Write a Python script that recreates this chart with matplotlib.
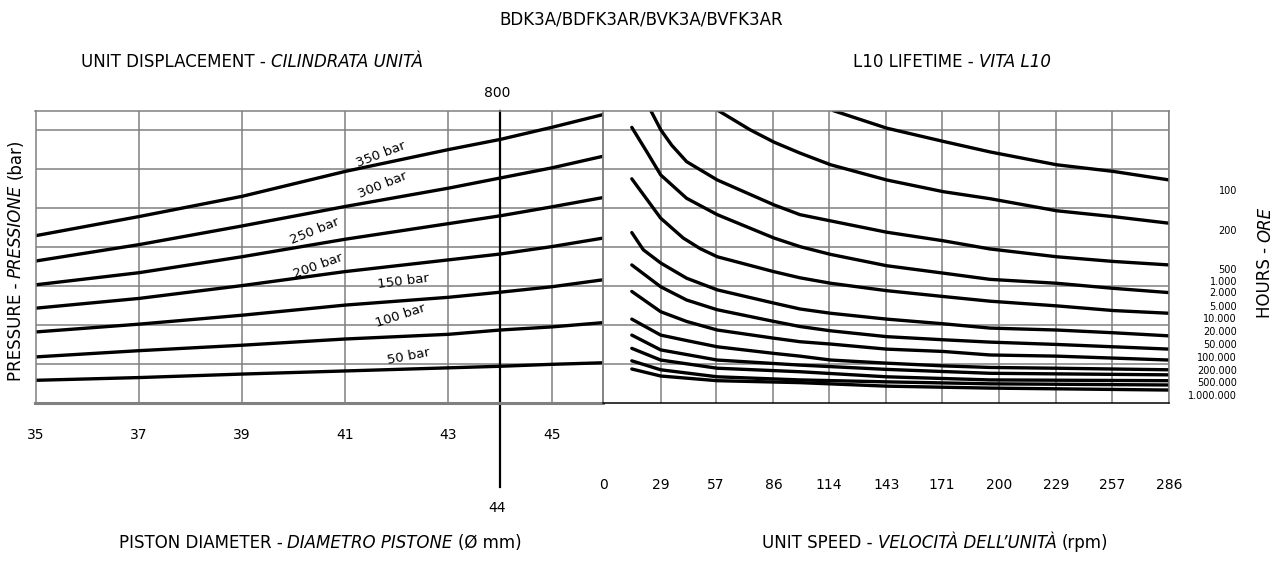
import matplotlib
matplotlib.use('Agg')
import matplotlib.pyplot as plt

# ---- left panel: piston diameter (mm) -> pressure curves (chart units) ----
diameter = [35, 37, 39, 41, 43, 44, 45, 46]
p50 = [0.59, 0.66, 0.75, 0.83, 0.91, 0.95, 1.00, 1.04]
p100 = [1.19, 1.35, 1.49, 1.65, 1.77, 1.88, 1.96, 2.07]
p150 = [1.83, 2.03, 2.26, 2.52, 2.72, 2.85, 2.99, 3.17]
p200 = [2.44, 2.69, 3.02, 3.38, 3.68, 3.83, 4.02, 4.24]
p250 = [3.04, 3.35, 3.76, 4.21, 4.61, 4.81, 5.04, 5.28]
p300 = [3.65, 4.07, 4.55, 5.05, 5.52, 5.78, 6.04, 6.34]
p350 = [4.30, 4.79, 5.31, 5.95, 6.51, 6.77, 7.08, 7.41]
pressures = [p50, p100, p150, p200, p250, p300, p350]
bar_names = ['50 bar', '100 bar', '150 bar', '200 bar', '250 bar', '300 bar', '350 bar']
diam_ticks = [35, 37, 39, 41, 43, 45]
sel_diam = 44

# ---- right panel: unit speed (rpm) -> L10 lifetime curves ----
rpm_100 = [116.2, 143.2, 171.8, 195.4, 229.1, 257.7, 286]
y_100 = [7.51, 7.06, 6.72, 6.45, 6.12, 5.95, 5.73]
rpm_200 = [58.1, 74.1, 86.3, 99.4, 114.9, 143.2, 171.8, 195.4, 229.1, 257.7, 286]
y_200 = [7.51, 7.02, 6.70, 6.42, 6.12, 5.73, 5.43, 5.25, 4.94, 4.79, 4.62]
rpm_500 = [24.0, 29.0, 34.6, 42.1, 57.6, 86.3, 99.4, 114.9, 143.2, 171.8, 195.4, 229.1, 257.7, 286]
y_500 = [7.51, 7.02, 6.62, 6.20, 5.73, 5.09, 4.84, 4.68, 4.39, 4.17, 3.96, 3.76, 3.64, 3.55]
rpm_1k = [14.4, 21.9, 29.0, 42.1, 57.6, 86.3, 99.4, 114.9, 143.2, 171.8, 195.4, 229.1, 257.7, 286]
y_1k = [7.08, 6.46, 5.86, 5.26, 4.84, 4.24, 4.02, 3.82, 3.53, 3.34, 3.18, 3.08, 2.95, 2.84]
rpm_2k = [14.4, 29.0, 40.4, 48.9, 57.6, 86.0, 99.4, 114.9, 143.2, 171.8, 195.4, 229.1, 257.7, 286]
y_2k = [5.76, 4.75, 4.24, 3.97, 3.76, 3.38, 3.22, 3.08, 2.89, 2.74, 2.62, 2.50, 2.38, 2.31]
rpm_5k = [14.4, 20.2, 29.0, 42.1, 57.6, 86.3, 99.4, 114.9, 143.2, 171.8, 195.4, 229.1, 257.7, 286]
y_5k = [4.38, 3.94, 3.60, 3.21, 2.91, 2.57, 2.42, 2.31, 2.16, 2.04, 1.93, 1.88, 1.81, 1.73]
rpm_10k = [14.4, 29.0, 42.1, 57.6, 86.3, 99.4, 114.9, 143.2, 171.8, 195.4, 229.1, 257.7, 286]
y_10k = [3.55, 2.99, 2.65, 2.40, 2.10, 1.97, 1.86, 1.71, 1.63, 1.57, 1.51, 1.45, 1.39]
rpm_20k = [14.4, 29.0, 42.1, 57.6, 86.3, 99.4, 114.9, 143.2, 171.8, 195.4, 229.1, 257.7, 286]
y_20k = [2.87, 2.35, 2.10, 1.88, 1.67, 1.58, 1.52, 1.39, 1.33, 1.24, 1.21, 1.16, 1.11]
rpm_50k = [14.4, 29.0, 42.1, 57.6, 86.3, 99.4, 114.9, 143.2, 171.8, 195.4, 229.1, 257.7, 286]
y_50k = [2.16, 1.75, 1.61, 1.45, 1.28, 1.21, 1.11, 1.03, 0.96, 0.92, 0.90, 0.88, 0.86]
rpm_100k = [14.4, 29.0, 57.6, 99.4, 143.2, 195.4, 286]
y_100k = [1.75, 1.37, 1.11, 0.98, 0.87, 0.77, 0.73]
rpm_200k = [14.4, 29.0, 57.6, 99.4, 143.2, 195.4, 286]
y_200k = [1.41, 1.11, 0.90, 0.81, 0.68, 0.60, 0.58]
rpm_500k = [14.4, 29.0, 57.6, 99.4, 143.2, 195.4, 286]
y_500k = [1.09, 0.86, 0.68, 0.60, 0.55, 0.50, 0.47]
rpm_1m = [14.4, 29.0, 57.6, 99.4, 143.2, 195.4, 286]
y_1m = [0.88, 0.70, 0.58, 0.53, 0.44, 0.39, 0.34]
life_curves = [(rpm_100, y_100), (rpm_200, y_200), (rpm_500, y_500), (rpm_1k, y_1k),
               (rpm_2k, y_2k), (rpm_5k, y_5k), (rpm_10k, y_10k), (rpm_20k, y_20k),
               (rpm_50k, y_50k), (rpm_100k, y_100k), (rpm_200k, y_200k),
               (rpm_500k, y_500k), (rpm_1m, y_1m)]
hour_labels = ['100', '200', '500', '1.000', '2.000', '5.000', '10.000', '20.000',
               '50.000', '100.000', '200.000', '500.000', '1.000.000']
speed_ticks = [0, 29, 57, 86, 114, 143, 171, 200, 229, 257, 286]

W, H = 1282, 561
fig = plt.figure(figsize=(W / 100, H / 100), dpi=100)
GRID = '#808080'

top, bot = 111, 403.3
axL = fig.add_axes([35.5 / W, (H - bot) / H, (603.3 - 35.5) / W, (bot - top) / H])
axR = fig.add_axes([603.3 / W, (H - bot) / H, 566 / W, (bot - top) / H])

for ax in (axL, axR):
    ax.set_ylim(0, 7.5)
    ax.set_yticks(range(1, 8))
    ax.set_yticklabels([])
    ax.grid(True, color=GRID, lw=1.1)
    ax.set_axisbelow(True)
    ax.tick_params(length=0, labelsize=10)
    for s in ax.spines.values():
        s.set_color(GRID)
        s.set_linewidth(1.1)

# left panel
axL.set_xlim(35, 46)
axL.set_xticks(diam_ticks)
axL.set_xticklabels([str(d) for d in diam_ticks])
axL.tick_params(axis='x', pad=18)
axL.spines['bottom'].set_linewidth(2.2)
for p in pressures:
    axL.plot(diameter, p, color='black', lw=2.4, solid_capstyle='round')
axL.plot([sel_diam, sel_diam], [7.5, -2.15], color='black', lw=1.6, clip_on=False)

lab_pos = [(42.22, 1.19, 11), (42.08, 2.26, 18), (42.12, 3.12, 7), (40.47, 3.53, 20),
           (40.40, 4.41, 22), (41.73, 5.60, 22), (41.69, 6.38, 21)]
for name, (x, y, rot) in zip(bar_names, lab_pos):
    axL.text(x, y, name, fontsize=9.5, rotation=rot, ha='center', va='center',
             rotation_mode='anchor')

# right panel
axR.set_xlim(0, 286)
axR.set_xticks(speed_ticks)
axR.set_xticklabels([str(s) for s in speed_ticks])
axR.tick_params(axis='x', pad=54)
axR.spines['bottom'].set_color('black')
for xs, ys in life_curves:
    axR.plot(xs, ys, color='black', lw=2.4, solid_capstyle='round', solid_joinstyle='round')

hour_y = [190.7, 230.7, 270, 281.7, 293.3, 306.7, 319.3, 331.7, 345, 357.7, 370.7, 383.3, 395.7]
for lab, yp in zip(hour_labels, hour_y):
    fig.text(1237 / W, 1 - yp / H, lab, fontsize=7, ha='right', va='center')


def mixed(xpx, ypx, parts, size=12, vertical=False):
    # draw normal/italic pieces side by side, centred on (xpx, ypx)
    r = fig.canvas.get_renderer()
    gap = size * 0.3 * fig.dpi / 72
    items = []
    total = 0
    for s, st in parts:
        t = fig.text(0, 0, s, fontsize=size, style=st, rotation=90 if vertical else 0,
                     ha='left', va='center', rotation_mode='anchor')
        bb = t.get_window_extent(r)
        L = bb.height if vertical else bb.width
        items.append((t, L))
        total += L
    total += gap * (len(items) - 1)
    if vertical:
        pos = (H - ypx) - total / 2
        for t, L in items:
            t.set_position((xpx / W, pos / H))
            pos += L + gap
    else:
        pos = xpx - total / 2
        for t, L in items:
            t.set_position((pos / W, 1 - ypx / H))
            pos += L + gap


fig.text(641 / W, 1 - 20 / H, 'BDK3A/BDFK3AR/BVK3A/BVFK3AR', fontsize=12,
         ha='center', va='center')
mixed(252, 62, [('UNIT DISPLACEMENT -', 'normal'), ('CILINDRATA UNITÀ', 'italic')])
mixed(952, 62, [('L10 LIFETIME -', 'normal'), ('VITA L10', 'italic')])
mixed(320, 543, [('PISTON DIAMETER -', 'normal'), ('DIAMETRO PISTONE', 'italic'),
                 ('(Ø mm)', 'normal')])
mixed(935, 543, [('UNIT SPEED -', 'normal'), ('VELOCITÀ DELL’UNITÀ', 'italic'),
                 ('(rpm)', 'normal')])
mixed(16, 260, [('PRESSURE -', 'normal'), ('PRESSIONE', 'italic'), ('(bar)', 'normal')],
      vertical=True)
mixed(1265, 262, [('HOURS -', 'normal'), ('ORE', 'italic')], vertical=True)
fig.text(497 / W, 1 - 93 / H, '800', fontsize=10, ha='center', va='center')
fig.text(497 / W, 1 - 508 / H, '44', fontsize=10, ha='center', va='center')

fig.savefig('out.png', dpi=100)
